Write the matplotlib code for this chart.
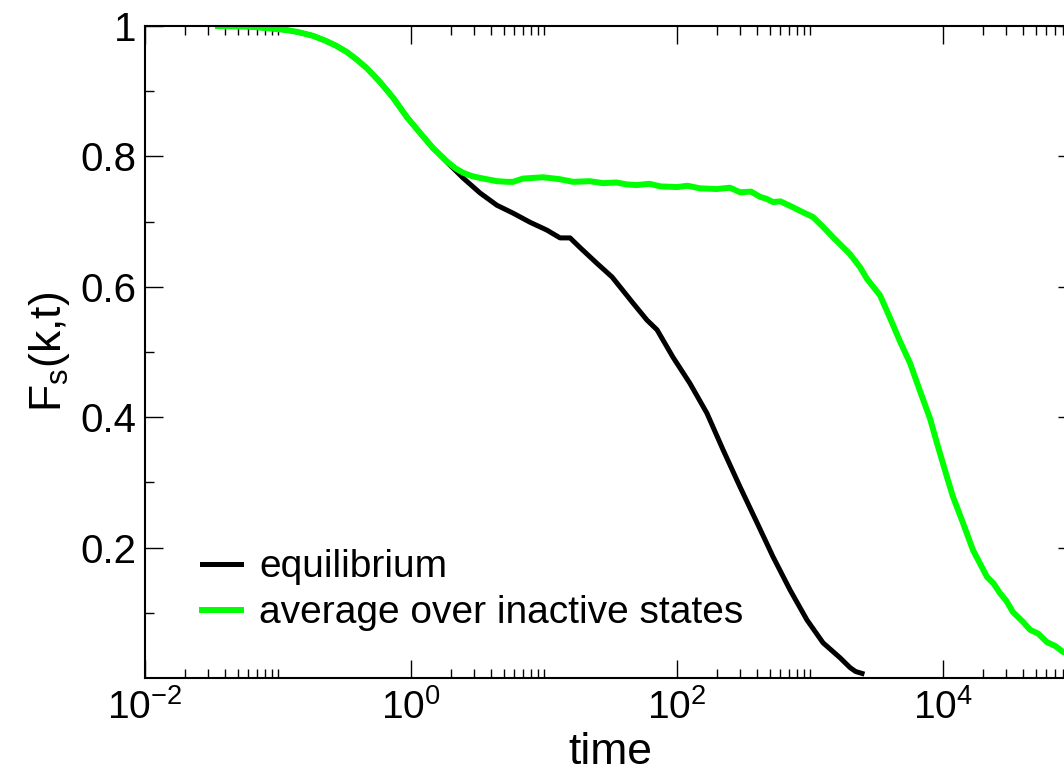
import matplotlib
matplotlib.use("Agg")
import matplotlib.pyplot as plt
from matplotlib.ticker import FixedLocator, FixedFormatter, NullFormatter

plt.rcParams['font.family'] = ['Liberation Sans', 'DejaVu Sans']
plt.rcParams['mathtext.fontset'] = 'custom'
plt.rcParams['mathtext.rm'] = 'Liberation Sans'
plt.rcParams['mathtext.it'] = 'Liberation Sans:italic'

# Self-intermediate scattering function vs. time
t_eq = [0.0354, 0.0615, 0.1035, 0.123, 0.146, 0.183, 0.224, 0.272, 0.330, 0.394,
        0.467, 0.585, 0.733, 0.933, 1.17, 1.46, 1.87, 2.46, 3.30, 4.43, 5.85,
        7.85, 10.5, 13.2, 15.7, 18.7, 25.0, 32.5, 46.7, 59.4, 70.8, 93.3, 125,
        168, 222, 298, 400, 527, 708, 949, 1253, 1682, 2000, 2200, 2461]
fs_eq = [1.000, 0.999, 0.995, 0.993, 0.990, 0.985, 0.978, 0.970, 0.960, 0.948,
         0.935, 0.914, 0.890, 0.860, 0.836, 0.813, 0.791, 0.767, 0.744, 0.725, 0.713,
         0.699, 0.687, 0.675, 0.675, 0.660, 0.636, 0.615, 0.575, 0.549, 0.534, 0.492, 0.452,
         0.406, 0.350, 0.293, 0.238, 0.186, 0.135, 0.089, 0.054, 0.031, 0.016, 0.010, 0.007]

t_inact = [0.0354, 0.0615, 0.1035, 0.123, 0.146, 0.183, 0.224, 0.272, 0.330, 0.394,
           0.467, 0.585, 0.733, 0.933, 1.17, 1.46, 1.87, 2.15, 2.46, 2.85, 3.30,
           4.43, 5.27, 5.85, 6.95, 9.83, 13.2,
           16.5, 22.0, 27.8, 35.0, 42.0, 50.0, 62.0, 75.0, 100, 120, 149, 200,
           250, 298, 360, 421, 470, 527, 600, 745, 850, 1054, 1253, 1489, 2000,
           2378, 2685, 3360, 4000, 4756, 5652, 6720, 7985, 9015, 10720, 11890,
           14130, 16820, 21430, 24000, 26850, 30000, 33600, 40000, 45100, 52000,
           60500, 70000, 79800, 100000]
fs_inact = [1.000, 0.999, 0.995, 0.993, 0.990, 0.985, 0.978, 0.970, 0.960, 0.948,
            0.935, 0.914, 0.890, 0.860, 0.836, 0.813, 0.792, 0.782, 0.775, 0.770, 0.767,
            0.762, 0.761, 0.761, 0.766, 0.768, 0.765,
            0.761, 0.762, 0.759, 0.760, 0.757, 0.756, 0.758, 0.754, 0.753, 0.755, 0.751, 0.750,
            0.752, 0.745, 0.746, 0.738, 0.735, 0.730, 0.731, 0.722, 0.716, 0.707, 0.692, 0.676, 0.650,
            0.630, 0.612, 0.587, 0.552, 0.516, 0.483, 0.440, 0.398, 0.360, 0.308, 0.278,
            0.238, 0.196, 0.155, 0.145, 0.130, 0.118, 0.101, 0.086, 0.074, 0.068,
            0.055, 0.049, 0.040, 0.034]

series_labels = ["equilibrium", "average over inactive states"]
x_major = [1e-2, 1e0, 1e2, 1e4]
x_major_labels = [r'$\mathregular{10^{-2}}$', r'$\mathregular{10^{0}}$',
                  r'$\mathregular{10^{2}}$', r'$\mathregular{10^{4}}$']
y_major = [0.2, 0.4, 0.6, 0.8, 1.0]
y_major_labels = ["0.2", "0.4", "0.6", "0.8", "1"]

fig = plt.figure(figsize=(10.64, 7.80), dpi=100)
ax = fig.add_axes([145 / 1064, 102 / 780, 931 / 1064, 652 / 780])

ax.plot(t_eq, fs_eq, color='black', lw=3.6, label=series_labels[0],
        solid_joinstyle='round')
ax.plot(t_inact, fs_inact, color='#00ff00', lw=4.3, label=series_labels[1],
        solid_joinstyle='round')

ax.set_xscale('log')
ax.set_xlim(1e-2, 1e5)
ax.set_ylim(0, 1)

x_minor = [m * k for m in x_major for k in range(2, 11)]
ax.xaxis.set_major_locator(FixedLocator(x_major))
ax.xaxis.set_major_formatter(FixedFormatter(x_major_labels))
ax.xaxis.set_minor_locator(FixedLocator(x_minor))
ax.xaxis.set_minor_formatter(NullFormatter())
ax.yaxis.set_major_locator(FixedLocator(y_major))
ax.yaxis.set_major_formatter(FixedFormatter(y_major_labels))
ax.yaxis.set_minor_locator(FixedLocator([0.1, 0.3, 0.5, 0.7, 0.9]))

ax.tick_params(which='both', direction='in', top=True, right=True, width=1.0)
ax.tick_params(which='major', length=13)
ax.tick_params(which='minor', length=6.5)
ax.tick_params(axis='x', which='major', pad=8, labelsize=28)
ax.tick_params(axis='y', which='major', pad=6, labelsize=29)
for sp in ax.spines.values():
    sp.set_linewidth(1.5)

ax.set_xlabel('time', fontsize=32, labelpad=4)
ax.set_ylabel(r'F$_\mathregular{s}$(k,t)', fontsize=32, labelpad=6)

ax.legend(loc='lower left', bbox_to_anchor=(0.045, 0.048), frameon=False,
          fontsize=28, handlelength=1.0, handletextpad=0.46, labelspacing=0.25,
          borderaxespad=0)

fig.savefig('out.png', dpi=100)
